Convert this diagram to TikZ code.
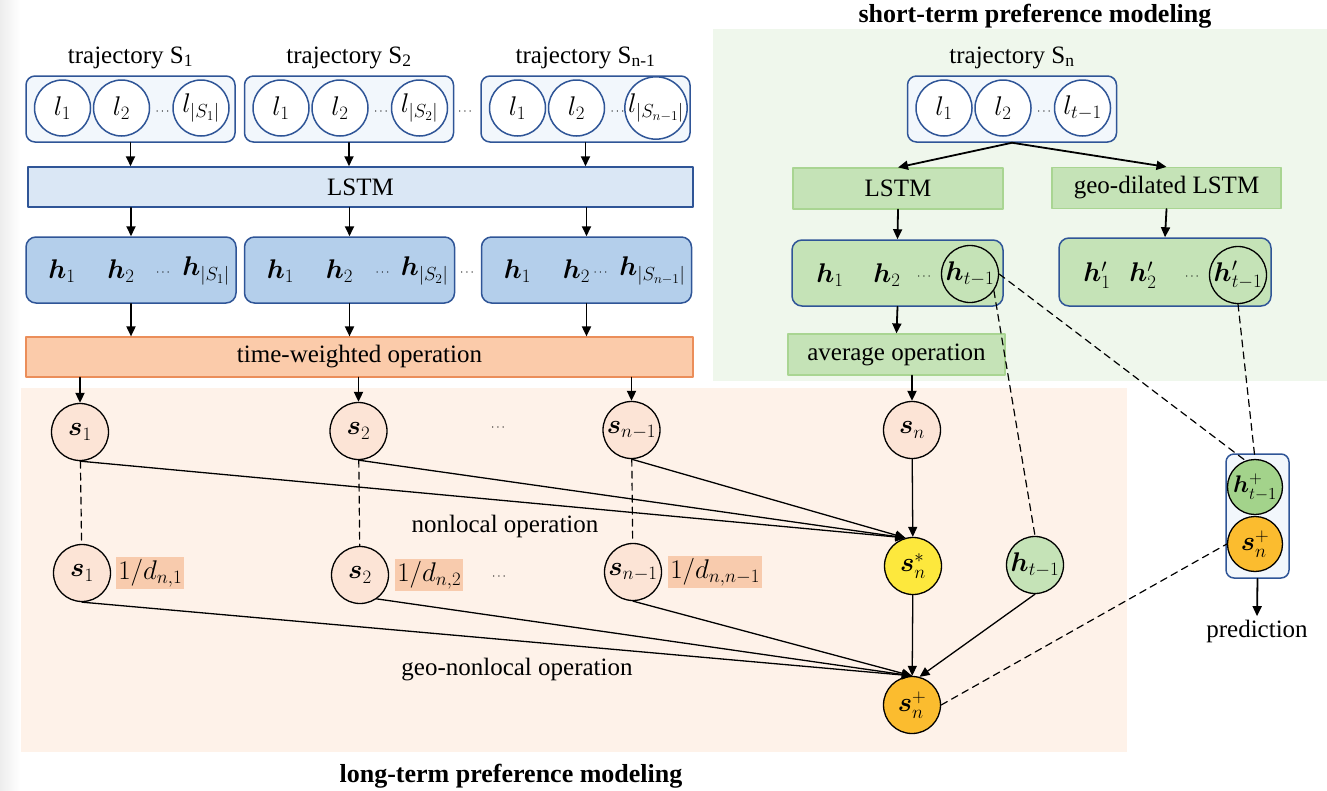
\RequirePackage{fix-cm}
\documentclass[tikz,border=0pt]{standalone}
\usepackage{amssymb}
\usepackage{fontspec}
\setmainfont{Liberation Serif}
\usepackage{bm}
\usepackage[dvipsnames]{xcolor}
\usepackage{pgf,tikz}
\usetikzlibrary{arrows.meta}
\usetikzlibrary{positioning}
\definecolor{bblue}{HTML}{2F5597}
\definecolor{trajfill}{HTML}{F2F7FC}
\definecolor{lstmfill}{HTML}{DAE7F5}
\definecolor{hfill}{HTML}{B4CFEB}
\definecolor{twfill}{HTML}{FBCBAA}
\definecolor{twdraw}{HTML}{EB8E5A}
\definecolor{longbg}{HTML}{FEF2E9}
\definecolor{shortbg}{HTML}{EFF7EC}
\definecolor{gfill}{HTML}{C5E3B7}
\definecolor{gdraw}{HTML}{A9D592}
\definecolor{sfill}{HTML}{FCE4D6}
\definecolor{dfill}{HTML}{F8CBAD}
\definecolor{ystar}{HTML}{FDE83D}
\definecolor{oplus}{HTML}{FBBC2F}
\definecolor{hplus}{HTML}{A3D38B}

\begin{document}
\begin{tikzpicture}[line cap=round,line join=round,>={Triangle[length=10pt,width=9pt]},x=1pt,y=-1pt,
  font=\fontsize{25}{30}\selectfont,
  mathlab/.style={font=\fontsize{27}{32}\selectfont},
  traj/.style={draw=bblue,fill=trajfill,line width=1.5pt,rounded corners=9pt,minimum width=209pt,minimum height=66pt,inner sep=0pt},
  loc/.style={mathlab,circle,draw=bblue,fill=white,line width=1.5pt,minimum size=56pt,inner sep=0pt},
  bar/.style={draw=bblue,fill=lstmfill,line width=1.5pt,minimum height=40pt,inner sep=0pt},
  hbox/.style={draw=bblue,fill=hfill,line width=1.5pt,rounded corners=10pt,minimum width=210pt,minimum height=66pt,inner sep=0pt},
  gbox/.style={draw=gdraw,fill=gfill,line width=1.2pt,minimum height=41pt,inner sep=0pt},
  snode/.style={mathlab,circle,draw=black,fill=sfill,line width=1.3pt,minimum size=57pt,inner sep=0pt},
  wt/.style={mathlab,fill=dfill,inner sep=2pt,minimum height=28pt},
  dotsnode/.style={font=\fontsize{12}{14}\selectfont,inner sep=0pt},
  bold title/.style={font=\bfseries\fontsize{26}{30}\selectfont},
  thickarr/.style={->,line width=1.8pt},
  thinarr/.style={->,line width=1.3pt},
  dashln/.style={line width=1.2pt,dash pattern=on 7pt off 5pt}]
\useasboundingbox (0,0) rectangle (1327,790);
\shade[left color=black!7,right color=white] (0,0) rectangle (20,790);
% panels
\fill[shortbg] (713,29) rectangle (1327,381);
\fill[longbg] (21,388) rectangle (1127,752);
\node[bold title] (stitle) at (1035,16) {short-term preference modeling};
\node[bold title] (ltitle) at (511,776) {long-term preference modeling};
% trajectories
\foreach \i/\x/\sub/\last in {1/130.5/1/{|S_1|},2/349/2/{|S_2|},3/585.5/{n-1}/{|S_{n-1}|},4/1012/n/{t-1}}{
  \node[traj] (traj\i) at (\x,109) {};
  \node[anchor=base] (tlab\i) at (\x,63) {trajectory S\textsubscript{\sub}};
  \node[loc] (p\i1) at (\x-68,108) {$l_1$};
  \node[loc] (p\i2) at (\x-9,108) {$l_2$};
  \node[loc] (p\i3) at (\x+70.5,108) {$l_{\last}$};
  \node[dotsnode] (pd\i) at (\x+32,112) {$\cdots$};
}
\node[dotsnode] (tdots) at (465,112) {$\cdots$};
\node[bar,minimum width=665pt] (lstm) at (360.5,187) {LSTM};
% hidden states
\foreach \i/\x/\last/\dx in {1/131/{|S_1|}/32,2/349.5/{|S_2|}/33,3/586.5/{|S_{n-1}|}/14}{
  \node[hbox] (hb\i) at (\x,270) {};
  \node[mathlab] (hb\i a) at (\x-69,271) {$\bm{h}_1$};
  \node[mathlab] (hb\i b) at (\x-10,271) {$\bm{h}_2$};
  \node[dotsnode] (hb\i d) at (\x+\dx,273) {$\cdots$};
  \node[mathlab,anchor=east,inner sep=0pt] (hb\i c) at (\x+99,271) {$\bm{h}_{\last}$};
}
\node[dotsnode] (hdots) at (467,273) {$\cdots$};
\node[draw=twdraw,fill=twfill,line width=1.2pt,minimum width=667pt,minimum height=40pt,inner sep=0pt] (tw) at (359.5,357) {time-weighted operation};
\foreach \i in {1,2,3}{
  \draw[thickarr] (traj\i.south) -- (traj\i.south |- lstm.north);
  \draw[thickarr] (lstm.south -| hb\i.north) -- (hb\i.north);
  \draw[thickarr] (hb\i.south) -- (hb\i.south |- tw.north);
}
% long-term nodes
\node[snode] (s1) at (80,432) {$\bm{s}_1$};
\node[snode] (s2) at (358.5,431) {$\bm{s}_2$};
\node[dotsnode] (sdots) at (498,428) {$\cdots$};
\node[snode] (sm) at (631.5,430) {$\bm{s}_{n-1}$};
\node[snode] (sn) at (912,430) {$\bm{s}_n$};
\node[snode] (g1) at (82,573) {$\bm{s}_1$};
\node[wt,right=5pt of g1] (w1) {$1/d_{n,1}$};
\node[snode] (g2) at (360,575) {$\bm{s}_2$};
\node[wt,right=6pt of g2] (w2) {$1/d_{n,2}$};
\node[dotsnode] (gdots) at (499,577) {$\cdots$};
\node[snode] (gm) at (633,572) {$\bm{s}_{n-1}$};
\node[wt,right=6pt of gm] (wm) {$1/d_{n,n-1}$};
\node[snode,fill=ystar] (sstar) at (913,566) {$\bm{s}_n^*$};
\node[snode,fill=gfill] (hlast) at (1035,565) {$\bm{h}_{t-1}$};
\node[snode,fill=oplus] (splus) at (912,705) {$\bm{s}_n^+$};
\node (nlop) at (505,526) {nonlocal operation};
\node (gnlop) at (517,670) {geo-nonlocal operation};
\draw[thickarr] (tw.south -| s1.north) -- (s1.north);
\draw[thickarr] (tw.south -| s2.north) -- (s2.north);
\draw[thickarr] (tw.south -| sm.north) -- (sm.north);
\foreach \a/\b in {s1/g1,s2/g2,sm/gm}
  \draw[dashln] (\a) -- (\b);
\foreach \a in {s1,s2,sm}
  \draw[thinarr] (\a.south) -- (sstar.105);
\draw[thinarr] (sn) -- (sstar);
\draw[thinarr] (g1.south) -- (splus.north);
\draw[thinarr] (g2.-55) -- (splus.north);
\draw[thinarr] (gm.south) -- (splus.north);
\draw[thinarr] (sstar) -- (splus);
\draw[thinarr] (hlast.south) -- (splus.75);
% short-term part
\node[gbox,minimum width=210pt] (slstm) at (898,188.5) {LSTM};
\node[gbox,minimum width=229pt] (geo) at (1166.5,188) {geo-dilated LSTM};
\node[hbox,fill=gfill,minimum width=211pt] (hs) at (897.5,273) {};
\node[mathlab] (hs1) at (830,275) {$\bm{h}_1$};
\node[mathlab] (hs2) at (887,275) {$\bm{h}_2$};
\node[dotsnode] (hsd) at (924,277) {$\cdots$};
\node[mathlab,circle,draw=black,line width=1.3pt,minimum size=57pt,inner sep=0pt] (ht) at (970,274) {$\bm{h}_{t-1}$};
\node[hbox,fill=gfill,minimum width=212pt,minimum height=68pt] (hp) at (1165,272) {};
\node[mathlab] (hp1) at (1097,275) {$\bm{h}'_1$};
\node[mathlab] (hp2) at (1143,275) {$\bm{h}'_2$};
\node[dotsnode] (hpd) at (1192,277) {$\cdots$};
\node[mathlab,circle,draw=black,line width=1.3pt,minimum size=57pt,inner sep=0pt] (hpt) at (1238,275) {$\bm{h}'_{t-1}$};
\node[gbox,minimum width=217pt] (avg) at (896.5,354.5) {average operation};
\draw[thickarr] (traj4.south) -- (slstm.north);
\draw[thickarr] (traj4.south) -- (geo.north);
\draw[thickarr] (slstm.south) -- (hs.north);
\draw[thickarr] (geo.south) -- (hp.north);
\draw[thickarr] (hs.south) -- (avg.north);
\draw[thickarr] (avg.south -| sn.north) -- (sn.north);
% prediction
\node[draw=bblue,fill=trajfill,line width=1.5pt,rounded corners=8pt,minimum width=63pt,minimum height=124pt] (pred) at (1257.5,516) {};
\node[snode,fill=hplus,minimum size=55pt,font=\fontsize{24}{26}\selectfont] (hplus) at (1255,487) {$\bm{h}_{t-1}^+$};
\node[snode,fill=oplus,minimum size=55pt] (splusp) at (1255,544) {$\bm{s}_n^+$};
\node (predtxt) at (1257,631) {prediction};
\draw[thickarr] (pred.south) -- (predtxt.north);
\draw[dashln] (ht.east) -- (hplus.110);
\draw[dashln] (ht.-35) -- (hlast.north);
\draw[dashln] (hpt.south) -- (hplus.north);
\draw[dashln] (splus.east) -- (splusp.west);
\end{tikzpicture}
\end{document}
